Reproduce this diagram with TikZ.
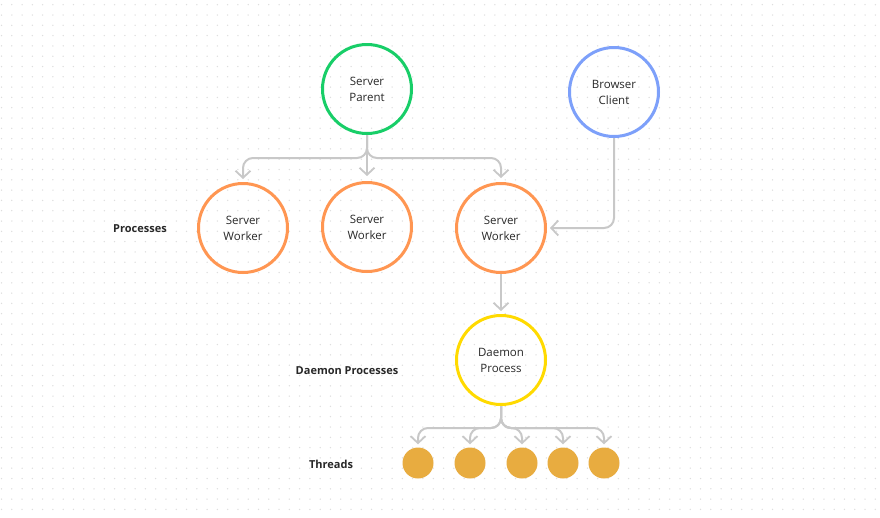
\documentclass[tikz,border=0pt]{standalone}
\usepackage{fontspec}
\setmainfont{Open Sans}
\usetikzlibrary{arrows.meta}

\definecolor{parentgreen}{RGB}{24,206,104}
\definecolor{clientblue}{RGB}{125,160,250}
\definecolor{workerorange}{RGB}{255,150,82}
\definecolor{daemonyellow}{RGB}{255,218,0}
\definecolor{threadgold}{RGB}{232,172,64}
\definecolor{linkgray}{RGB}{200,200,200}
\definecolor{dotgray}{RGB}{222,222,222}
\definecolor{inkgray}{RGB}{40,40,40}

\tikzset{
    proc/.style={circle, line width=3pt, minimum size=89pt, inner sep=0pt, align=center,
        text=inkgray, font=\fontsize{11.5}{16}\selectfont},
    thread/.style={circle, fill=threadgold, minimum size=31pt, inner sep=0pt},
    rowlabel/.style={text=inkgray, font=\fontsize{11}{13}\selectfont\bfseries},
    link/.style={linkgray, line width=2pt, rounded corners=10pt,
        -{Straight Barb[length=7pt,width=15pt,line width=1.8pt]}}
}

\begin{document}
\begin{tikzpicture}[x=1pt, y=-1pt]
    \useasboundingbox (0,0) rectangle (880,517);
    \fill[white] (0,0) rectangle (880,517);

    % Dot grid
    \foreach \i in {0,...,85} {
        \foreach \j in {0,...,50} {
            \fill[dotgray] (1.5+10.28*\i, 4.7+10.3*\j) circle (0.75);
        }
    }

    % Top row
    \node[proc, draw=parentgreen] (parent) at (367,89) {Server\\Parent};
    \node[proc, draw=clientblue] (client) at (614,92) {Browser\\Client};

    % Processes
    \node[rowlabel] (proclabel) at (140,229) {Processes};
    \node[proc, draw=workerorange] (workerA) at (243,228) {Server\\Worker};
    \node[proc, draw=workerorange] (workerB) at (367,227) {Server\\Worker};
    \node[proc, draw=workerorange] (workerC) at (501,228) {Server\\Worker};

    % Daemon
    \node[rowlabel] (daemonlabel) at (347,371) {Daemon Processes};
    \node[proc, draw=daemonyellow] (daemon) at (501,360) {Daemon\\Process};

    % Threads
    \node[rowlabel] (threadlabel) at (331,464) {Threads};
    \node[thread] (t1) at (418,463) {};
    \node[thread] (t2) at (470,463) {};
    \node[thread] (t3) at (522,463) {};
    \node[thread] (t4) at (563,463) {};
    \node[thread] (t5) at (604,463) {};

    % Parent -> workers
    \coordinate (pj) at (367,158);
    \draw[link] (parent.south) -- (pj) -| ([yshift=3pt]workerA.north);
    \draw[link] (parent.south) -- ([yshift=5pt]workerB.north);
    \draw[link] (parent.south) -- (pj) -| ([yshift=4pt]workerC.north);

    % Client -> worker
    \draw[link] (client.south) |- ([xshift=3pt]workerC.east);

    % Worker -> daemon
    \draw[link] (workerC.south) -- ([yshift=3pt]daemon.north);

    % Daemon -> threads
    \coordinate (dj) at (501,428);
    \draw[link] (daemon.south) -- (dj) -| ([yshift=3pt]t1.north);
    \draw[link] (daemon.south) -- (dj) -| ([yshift=3pt]t2.north);
    \draw[link] (daemon.south) -- (dj) -| ([yshift=3pt]t3.north);
    \draw[link] (daemon.south) -- (dj) -| ([yshift=3pt]t4.north);
    \draw[link] (daemon.south) -- (dj) -| ([yshift=3pt]t5.north);
\end{tikzpicture}
\end{document}
